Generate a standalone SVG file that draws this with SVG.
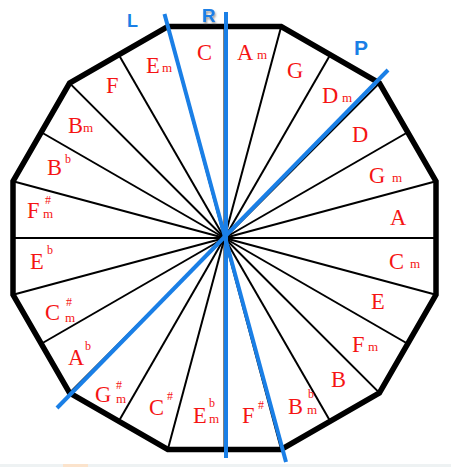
<svg xmlns="http://www.w3.org/2000/svg" width="451" height="467" viewBox="0 0 451 467">
<defs>
<style>
.lbl{font-family:"Liberation Serif","Times New Roman",serif;fill:#f51414;font-size:22.5px}
.sm{font-size:13px}
.sp{font-size:12px}
.spoke{stroke:#000;stroke-width:2}
.blue{stroke:#1a7fe6;stroke-width:4;stroke-linecap:butt;fill:none}
.bl{font-family:"Liberation Sans",Arial,sans-serif;font-weight:bold;fill:#1a7fe6}
</style>
<filter id="sh" x="-30%" y="-30%" width="160%" height="180%">
<feDropShadow dx="1" dy="2" stdDeviation="1" flood-color="#555" flood-opacity="0.6"/>
</filter>
</defs>
<rect width="451" height="467" fill="#fff"/>
<rect x="0" y="464" width="451" height="3" fill="#eef2f3"/>
<rect x="63" y="464" width="25" height="3" fill="#fbe3cc"/>
<g id="connectors">
<g id="spokes" class="spoke">
<line x1="224.5" y1="238" x2="167.8" y2="26.5"/>
<line x1="224.5" y1="238" x2="281.2" y2="26.5"/>
<line x1="224.5" y1="238" x2="379.4" y2="83.1"/>
<line x1="224.5" y1="238" x2="436" y2="181.3"/>
<line x1="224.5" y1="238" x2="436" y2="294.7"/>
<line x1="224.5" y1="238" x2="379.4" y2="392.9"/>
<line x1="224.5" y1="238" x2="281.2" y2="449.5"/>
<line x1="224.5" y1="238" x2="167.8" y2="449.5"/>
<line x1="224.5" y1="238" x2="69.6" y2="392.9"/>
<line x1="224.5" y1="238" x2="13" y2="294.7"/>
<line x1="224.5" y1="238" x2="13" y2="181.3"/>
<line x1="224.5" y1="238" x2="69.6" y2="83.1"/>
<line x1="224.5" y1="238" x2="224.5" y2="26.5"/>
<line x1="224.5" y1="238" x2="330.25" y2="54.8"/>
<line x1="224.5" y1="238" x2="407.7" y2="132.25"/>
<line x1="224.5" y1="238" x2="436" y2="238"/>
<line x1="224.5" y1="238" x2="407.7" y2="343.75"/>
<line x1="224.5" y1="238" x2="330.25" y2="421.2"/>
<line x1="224.5" y1="238" x2="224.5" y2="449.5"/>
<line x1="224.5" y1="238" x2="118.75" y2="421.2"/>
<line x1="224.5" y1="238" x2="41.3" y2="343.75"/>
<line x1="224.5" y1="238" x2="13" y2="238"/>
<line x1="224.5" y1="238" x2="41.3" y2="132.25"/>
<line x1="224.5" y1="238" x2="118.75" y2="54.8"/>
</g>
</g>
<g id="dodecagon">
<polygon points="167.8,26.5 281.2,26.5 379.4,83.1 436,181.3 436,294.7 379.4,392.9 281.2,449.5 167.8,449.5 69.6,392.9 13,294.7 13,181.3 69.6,83.1" fill="none" stroke="#000" stroke-width="5.5" stroke-linejoin="miter"/>
</g>
<g id="axes">
<g id="axis-L"><line class="blue" x1="164.5" y1="14" x2="286" y2="462"/><text class="bl" x="127" y="27" font-size="18">L</text></g>
<g id="axis-R"><line class="blue" x1="226" y1="12" x2="226" y2="458" stroke-width="3.5"/><text class="bl" x="202" y="22" font-size="19" filter="url(#sh)">R</text></g>
<g id="axis-P"><line class="blue" x1="388" y1="70" x2="57" y2="408"/><text class="bl" x="354" y="55" font-size="21">P</text></g>
</g>
<g id="labels" class="lbl">
<g id="n-C"><text x="197" y="60">C</text></g>
<g id="n-Am"><text x="237" y="60">A</text><text class="sm" x="257" y="59">m</text></g>
<g id="n-G"><text x="287" y="78">G</text></g>
<g id="n-Dm"><text x="322" y="103">D</text><text class="sm" x="342" y="102">m</text></g>
<g id="n-D"><text x="352" y="142">D</text></g>
<g id="n-Gm"><text x="369" y="183">G</text><text class="sm" x="392" y="182">m</text></g>
<g id="n-A"><text x="390" y="225">A</text></g>
<g id="n-Cm"><text x="389" y="269">C</text><text class="sm" x="410" y="268">m</text></g>
<g id="n-E"><text x="371" y="309">E</text></g>
<g id="n-Fm"><text x="352" y="352">F</text><text class="sm" x="368" y="351">m</text></g>
<g id="n-B"><text x="331" y="387">B</text></g>
<g id="n-Bbm"><text x="288" y="414">B</text><text class="sp" x="308" y="398">b</text><text class="sm" x="307" y="414">m</text></g>
<g id="n-Fs"><text x="242" y="423">F</text><text class="sp" x="258" y="409">#</text></g>
<g id="n-Ebm"><text x="193" y="423">E</text><text class="sp" x="209" y="407">b</text><text class="sm" x="209" y="423">m</text></g>
<g id="n-Cs"><text x="149" y="415">C</text><text class="sp" x="167" y="400">#</text></g>
<g id="n-Gsm"><text x="95" y="402">G</text><text class="sp" x="116" y="389">#</text><text class="sm" x="116" y="403">m</text></g>
<g id="n-Ab"><text x="68" y="365">A</text><text class="sp" x="85" y="350">b</text></g>
<g id="n-Csm"><text x="45" y="320">C</text><text class="sp" x="66" y="306">#</text><text class="sm" x="65" y="322">m</text></g>
<g id="n-Eb"><text x="30" y="269">E</text><text class="sp" x="47" y="254">b</text></g>
<g id="n-Fsm"><text x="27" y="218">F</text><text class="sp" x="45" y="204">#</text><text class="sm" x="43" y="218">m</text></g>
<g id="n-Bb"><text x="47" y="175">B</text><text class="sp" x="65" y="163">b</text></g>
<g id="n-Bm"><text x="68" y="133">B</text><text class="sm" x="83" y="132">m</text></g>
<g id="n-F"><text x="106" y="93">F</text></g>
<g id="n-Em"><text x="146" y="73">E</text><text class="sm" x="162" y="72">m</text></g>
</g>
</svg>
